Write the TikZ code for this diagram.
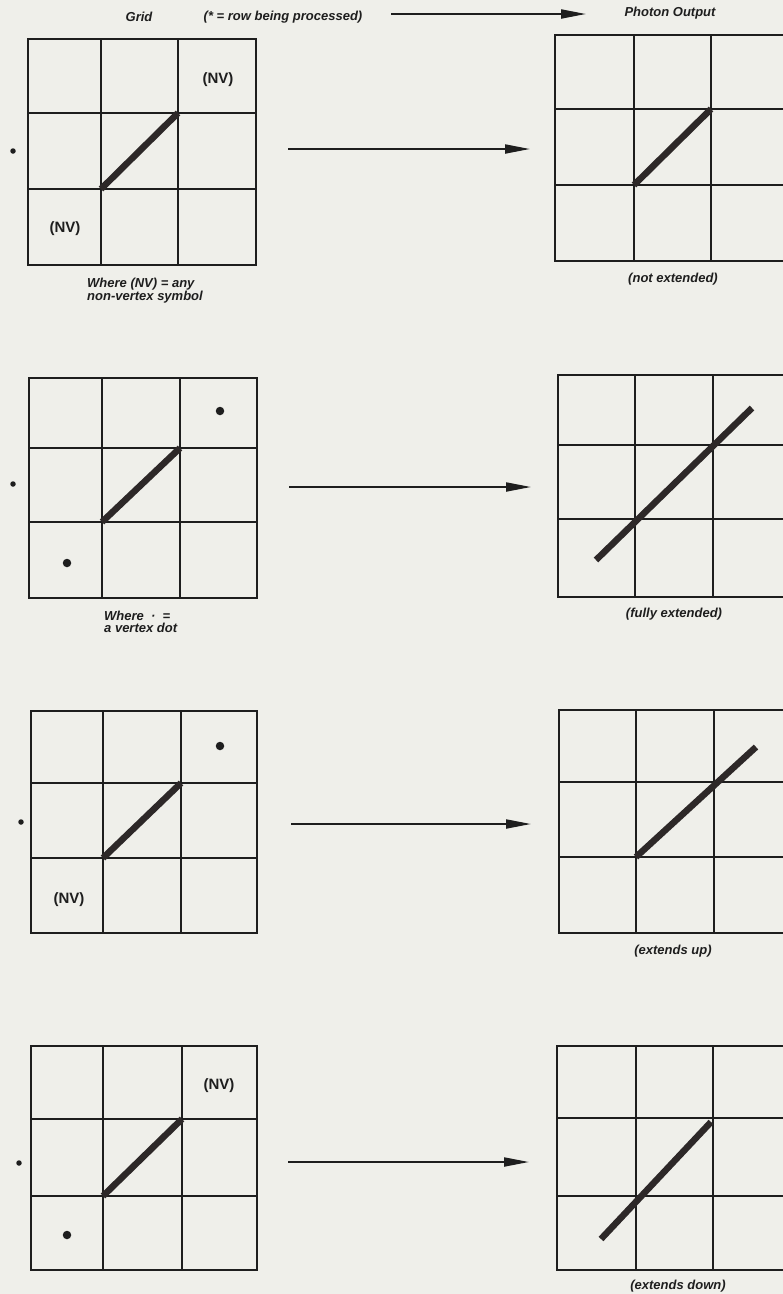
\documentclass[tikz,border=0pt]{standalone}
\usepackage{fontspec}
\setmainfont{Liberation Sans}
\usetikzlibrary{arrows.meta}
\definecolor{paper}{RGB}{239,239,234}
\definecolor{ink}{RGB}{30,30,30}
\definecolor{bar}{RGB}{45,40,40}
\newcommand{\mygrid}[8]{%
  \draw[gridline] (#1,#5) rectangle (#4,#8);
  \draw[gridline] (#2,#5) -- (#2,#8) (#3,#5) -- (#3,#8);
  \draw[gridline] (#1,#6) -- (#4,#6) (#1,#7) -- (#4,#7);
}
\tikzset{
  gridline/.style={draw=ink, line width=1.4pt},
  barline/.style={draw=bar, line width=6.5pt},
  arr/.style={draw=ink, line width=2pt, -{Triangle[length=25pt,width=9pt]}},
  hdr/.style={font=\fontsize{13}{12}\selectfont\bfseries\itshape, text=ink, inner sep=0pt},
  captxt/.style={font=\fontsize{13}{11.5}\selectfont\bfseries\itshape, text=ink, inner sep=0pt, align=left},
  nv/.style={font=\fontsize{15}{14}\selectfont\bfseries, text=ink, inner sep=0pt},
  vdot/.style={circle, fill=ink, inner sep=0pt, minimum size=8.5pt},
  rdot/.style={circle, fill=ink, inner sep=0pt, minimum size=5.5pt},
}
\begin{document}
\begin{tikzpicture}[x=1pt,y=-1pt]
\useasboundingbox (0,0) rectangle (783,1294);
\fill[paper] (0,0) rectangle (783,1294);
\clip (0,0) rectangle (783,1294);

% header
\node[hdr] (hgrid) at (139,17) {Grid};
\node[hdr] (hnote) at (283,17) {(* = row being processed)};
\node[hdr] (hout) at (670,13) {Photon Output};
\coordinate (ts) at (391,14);
\coordinate (te) at (586,14);
\draw[arr] (ts) -- (te);

% ---------- row 1 ----------
\mygrid{28}{101}{178}{256}{39}{113}{189}{265}
\draw[barline] (101,189) -- (178,113);
\node[nv] (nv1a) at (218,80) {(NV)};
\node[nv] (nv1b) at (65,229) {(NV)};
\node[rdot] (r1) at (13,151) {};
\node[captxt, anchor=north west] (c1l) at (87,278) {Where (NV) = any\\non-vertex symbol};
\mygrid{555}{634}{711}{789}{35}{109}{185}{261}
\draw[barline] (634,185) -- (711,109);
\node[hdr] (c1r) at (673,279) {(not extended)};
\coordinate (a1s) at (288,149);
\coordinate (a1e) at (530,149);
\draw[arr] (a1s) -- (a1e);

% ---------- row 2 ----------
\mygrid{29}{102}{180}{257}{378}{448}{522}{598}
\draw[barline] (102,522) -- (180,448);
\node[vdot] (v2a) at (220,411) {};
\node[vdot] (v2b) at (67,563) {};
\node[rdot] (r2) at (13,484) {};
\node[captxt, anchor=north west] (c2l) at (104,611) {Where \ \textbf{·} \ =\\a vertex dot};
\mygrid{558}{635}{713}{791}{375}{445}{519}{597}
\draw[barline] (596,560) -- (752,408);
\node[hdr] (c2r) at (674,614) {(fully extended)};
\coordinate (a2s) at (289,487);
\coordinate (a2e) at (531,487);
\draw[arr] (a2s) -- (a2e);

% ---------- row 3 ----------
\mygrid{31}{103}{181}{257}{711}{783}{858}{933}
\draw[barline] (103,858) -- (181,783);
\node[vdot] (v3a) at (220,746) {};
\node[nv] (nv3) at (69,900) {(NV)};
\node[rdot] (r3) at (21,822) {};
\mygrid{559}{636}{714}{792}{710}{782}{857}{933}
\draw[barline] (636,857) -- (756,747);
\node[hdr] (c3r) at (673,951) {(extends up)};
\coordinate (a3s) at (291,824);
\coordinate (a3e) at (531,824);
\draw[arr] (a3s) -- (a3e);

% ---------- row 4 ----------
\mygrid{31}{103}{182}{257}{1046}{1119}{1196}{1270}
\draw[barline] (103,1196) -- (182,1119);
\node[nv] (nv4) at (219,1086) {(NV)};
\node[vdot] (v4) at (67,1235) {};
\node[rdot] (r4) at (19,1163) {};
\mygrid{557}{636}{713}{790}{1046}{1118}{1196}{1270}
\draw[barline] (601,1239) -- (711,1122);
\node[hdr] (c4r) at (678,1286) {(extends down)};
\coordinate (a4s) at (288,1162);
\coordinate (a4e) at (529,1162);
\draw[arr] (a4s) -- (a4e);
\end{tikzpicture}
\end{document}
